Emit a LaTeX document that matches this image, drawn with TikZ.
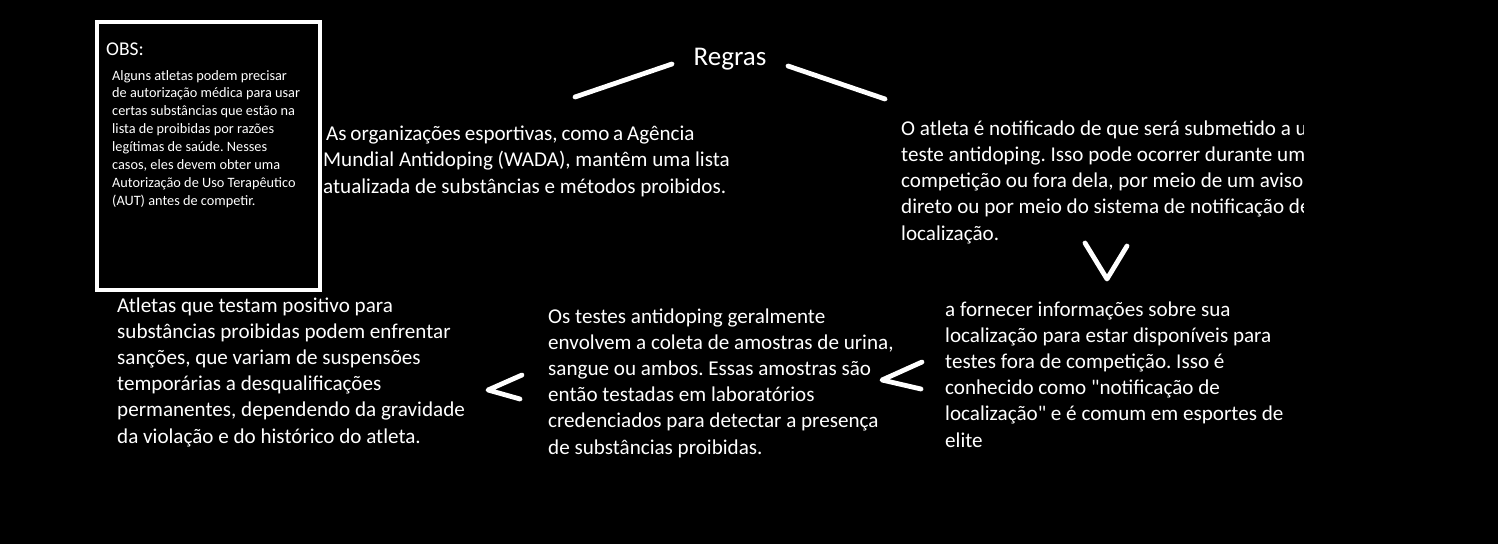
\documentclass[tikz,border=0pt]{standalone}
\usepackage{fontspec}
\setmainfont{Carlito}[Ligatures=TeXOff]
\frenchspacing
\begin{document}
\begin{tikzpicture}[x=1pt,y=-1pt,
  txt/.style={text=white, anchor=base west, inner sep=0pt, align=left,
    font=\fontsize{21.1}{26.2}\selectfont},
  obstxt/.style={text=white, anchor=base west, inner sep=0pt, align=left,
    font=\fontsize{14.3}{17.85}\selectfont},
  stroke/.style={draw=white, line width=4.8pt, line cap=round, line join=round},
  obsbox/.style={draw=white, line width=4pt}]
\fill[black] (0,0) rectangle (1498,544);
\useasboundingbox (0,0) rectangle (1498,544);

% OBS box (multi-line node anchors are the baseline of the LAST line)
\draw[obsbox] (97,22) rectangle (319.5,289.5);
\node[text=white, anchor=base west, inner sep=0pt, font=\fontsize{19.5}{22}\selectfont] (obs) at (106,55) {OBS:};
\node[obstxt] (obsbody) at (112,205) {Alguns atletas podem precisar\\de autorização médica para usar\\certas substâncias que estão na\\lista de proibidas por razões\\legítimas de saúde. Nesses\\casos, eles devem obter uma\\Autorização de Uso Terapêutico\\(AUT) antes de competir.};

% Title
\node[text=white, anchor=base, inner sep=0pt, font=\fontsize{27}{32}\selectfont] (regras) at (730,65) {Regras};
\coordinate (l1) at (575,97); \coordinate (l2) at (672,64);
\coordinate (r1) at (788,66); \coordinate (r2) at (885,99);
\draw[stroke] (l1) -- (l2);
\draw[stroke] (r1) -- (r2);

% WADA text
\node[txt] (wada) at (323,193) {\hspace{3pt}{\spaceskip=0.8\fontdimen2\font As organizações esportivas, como a Agência}\\Mundial Antidoping (WADA), mantêm uma lista\\atualizada de substâncias e métodos proibidos.};

% Notification text (clipped at right)
\begin{scope}
\clip (0,0) rectangle (1303,544);
\node[txt] (notif) at (901,240) {O atleta é notificado de que será submetido a um\\teste antidoping. Isso pode ocorrer durante uma\\competição ou fora dela, por meio de um aviso\\direto ou por meio do sistema de notificação de\\localização.};
\end{scope}

% V arrow
\coordinate (v1) at (1085,243); \coordinate (v2) at (1107,279); \coordinate (v3) at (1127,246);
\draw[stroke] (v1) -- (v2) -- (v3);

% Localization text
\node[txt] (local) at (945,447) {a fornecer informações sobre sua\\localização para estar disponíveis para\\testes fora de competição. Isso é\\conhecido como "notificação de\\localização" e é comum em esportes de\\elite};

% < arrow 1
\coordinate (a1) at (922,362); \coordinate (a2) at (882,380); \coordinate (a3) at (921,389);
\draw[stroke] (a1) -- (a2) -- (a3);

% Tests text
\node[txt] (tests) at (548,454) {Os testes antidoping geralmente\\envolvem a coleta de amostras de urina,\\sangue ou ambos. Essas amostras são\\então testadas em laboratórios\\credenciados para detectar a presença\\de substâncias proibidas.};

% < arrow 2
\coordinate (b1) at (522,375); \coordinate (b2) at (488,390); \coordinate (b3) at (520,399);
\draw[stroke] (b1) -- (b2) -- (b3);

% Sanctions text
\node[txt] (sanc) at (117,443) {Atletas que testam positivo para\\substâncias proibidas podem enfrentar\\sanções, que variam de suspensões\\temporárias a desqualificações\\permanentes, dependendo da gravidade\\da violação e do histórico do atleta.};
\end{tikzpicture}
\end{document}
